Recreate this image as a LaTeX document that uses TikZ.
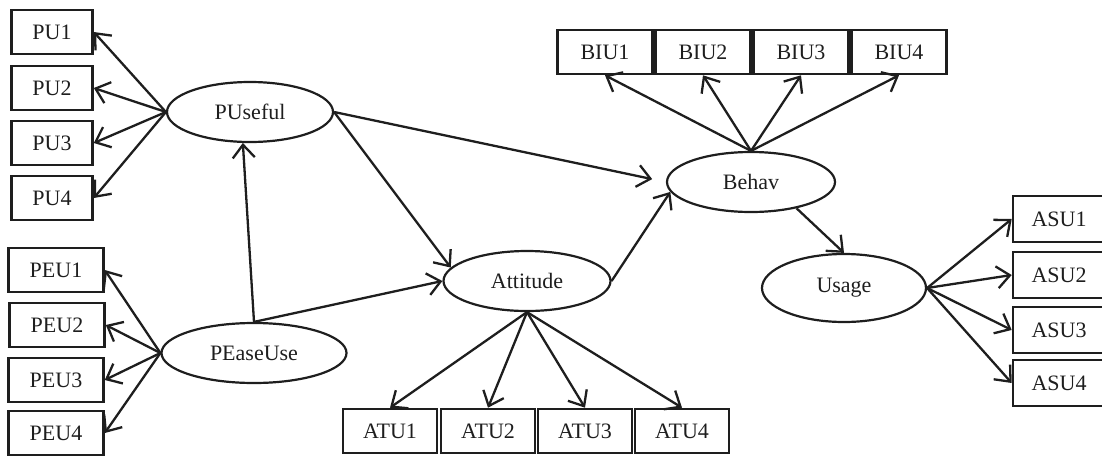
\documentclass[tikz,border=0pt]{standalone}
\usepackage{fontspec}
\setmainfont{Liberation Serif}
\usetikzlibrary{shapes.geometric,arrows.meta}
\definecolor{ink}{RGB}{30,30,30}

\begin{document}
\begin{tikzpicture}[x=0.5pt,y=-0.5pt,
	every node/.style={draw=ink,text=ink,line width=1.3pt,inner sep=0pt,font=\fontsize{11}{13}\selectfont},
	item/.style={rectangle,minimum height=22pt},
	factor/.style={ellipse,line width=1.1pt,minimum height=30pt},
	link/.style={draw=ink,line width=1.15pt,-{Straight Barb[length=6.5pt,width=11pt,line width=1.15pt]}}]

	\useasboundingbox (0,0) rectangle (1102,455);

	% latent factors
	\node[factor,minimum width=83pt] (pu) at (250,112) {PUseful};
	\node[factor,minimum width=92.5pt] (peu) at (254,353) {PEaseUse};
	\node[factor,minimum width=83.5pt] (atu) at (527,281) {Attitude};
	\node[factor,minimum width=84pt] (biu) at (751,182) {Behav};
	\node[factor,minimum width=82pt,minimum height=34pt] (asu) at (844,288) {Usage};

	% indicators
	\node[item,minimum width=40.5pt] (pu1) at (52,32) {PU1};
	\node[item,minimum width=40.5pt] (pu2) at (52,88) {PU2};
	\node[item,minimum width=40.5pt] (pu3) at (52,143) {PU3};
	\node[item,minimum width=40.5pt] (pu4) at (52,198) {PU4};

	\node[item,minimum width=47.5pt] (peu1) at (56,270) {PEU1};
	\node[item,minimum width=47.5pt] (peu2) at (57,325) {PEU2};
	\node[item,minimum width=47.5pt] (peu3) at (56,380) {PEU3};
	\node[item,minimum width=47.5pt] (peu4) at (56,433) {PEU4};

	\node[item,minimum width=47pt] (atu1) at (390,431) {ATU1};
	\node[item,minimum width=47pt] (atu2) at (488,431) {ATU2};
	\node[item,minimum width=47pt] (atu3) at (585,431) {ATU3};
	\node[item,minimum width=47pt] (atu4) at (682,431) {ATU4};

	\node[item,minimum width=47.5pt] (biu1) at (605,52) {BIU1};
	\node[item,minimum width=47.5pt] (biu2) at (703,52) {BIU2};
	\node[item,minimum width=47.5pt] (biu3) at (801,52) {BIU3};
	\node[item,minimum width=47.5pt] (biu4) at (899,52) {BIU4};

	\node[item,minimum width=46pt,minimum height=23pt] (asu1) at (1059,219) {ASU1};
	\node[item,minimum width=46pt,minimum height=23pt] (asu2) at (1059,275) {ASU2};
	\node[item,minimum width=46pt,minimum height=23pt] (asu3) at (1059,330) {ASU3};
	\node[item,minimum width=46pt,minimum height=23pt] (asu4) at (1059,383) {ASU4};

	% structural paths
	\draw[link] (peu.north) -- (pu.257);
	\draw[link] (peu.north) -- (atu.west);
	\draw[link] (pu.east) -- (atu.170);
	\draw[link,shorten >=7pt] (pu.east) -- (biu.west);
	\draw[link] (atu.east) -- (biu.187);
	\draw[link] (biu.-30) -- (asu.north);

	% loadings
	\draw[link] (pu.west) -- (pu1.east);
	\draw[link] (pu.west) -- (pu2.east);
	\draw[link] (pu.west) -- (pu3.east);
	\draw[link] (pu.west) -- (pu4.east);

	\draw[link] (peu.west) -- (peu1.east);
	\draw[link] (peu.west) -- (peu2.east);
	\draw[link] (peu.west) -- (peu3.east);
	\draw[link] (peu.west) -- (peu4.east);

	\draw[link] (atu.south) -- (atu1.north);
	\draw[link] (atu.south) -- (atu2.north);
	\draw[link] (atu.south) -- (atu3.north);
	\draw[link] (atu.south) -- (atu4.north);

	\draw[link] (biu.north) -- (biu1.south);
	\draw[link] (biu.north) -- (biu2.south);
	\draw[link] (biu.north) -- (biu3.south);
	\draw[link] (biu.north) -- (biu4.south);

	\draw[link] (asu.east) -- (asu1.west);
	\draw[link] (asu.east) -- (asu2.west);
	\draw[link] (asu.east) -- (asu3.west);
	\draw[link] (asu.east) -- (asu4.west);

\end{tikzpicture}
\end{document}
